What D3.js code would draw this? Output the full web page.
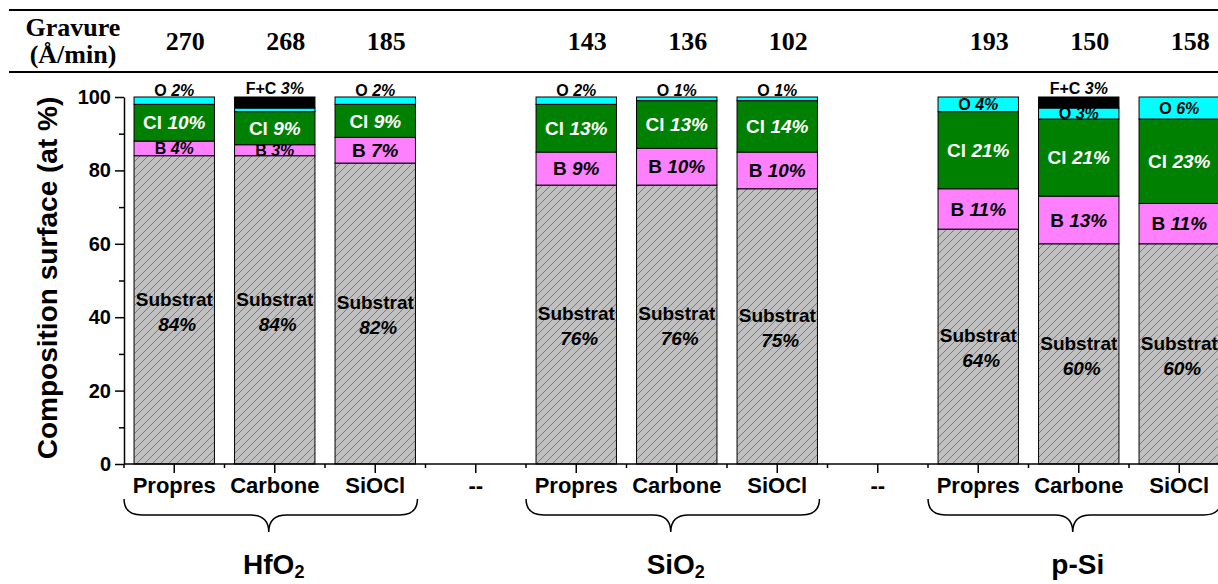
<!DOCTYPE html>
<html>
<head>
<meta charset="utf-8">
<script src="https://cdn.jsdelivr.net/npm/d3@7"></script>
<style>
  body { margin: 0; background: #fff; }
  svg { display: block; overflow: hidden; }
  text { font-family: Arial, "Liberation Sans", sans-serif; font-weight: bold; }
  .serif { font-family: "Times New Roman", "Liberation Serif", serif; }
</style>
</head>
<body>
<svg id="chart" width="1218" height="584"></svg>
<script>
// categories (the "--" slots are empty spacers between materials)
var tickLabels = ["Propres", "Carbone", "SiOCl", "--", "Propres", "Carbone", "SiOCl", "--", "Propres", "Carbone", "SiOCl"]
var groups = ["HfO2", "SiO2", "p-Si"]
var groupSlots = [[0, 2], [4, 6], [8, 10]]

// etch rate (Å/min)
var gravure = [270, 268, 185, null, 143, 136, 102, null, 193, 150, 158]

// surface composition (at %)
var substrat = [84, 84, 82, 0, 76, 76, 75, 0, 64, 60, 60]
var bore = [4, 3, 7, 0, 9, 10, 10, 0, 11, 13, 11]
var chlore = [10, 9, 9, 0, 13, 13, 14, 0, 21, 21, 23]
var oxygene = [2, 1, 2, 0, 2, 1, 1, 0, 4, 3, 6]
var fluorCarbone = [0, 3, 0, 0, 0, 0, 0, 0, 0, 3, 0]
var hiddenLabels = [[1, "O"]]

var yTicks = [0, 20, 40, 60, 80, 100]
var yMinor = [10, 30, 50, 70, 90]

var series = [
    {key: "Substrat", values: substrat, fill: "url(#hatch)", text: "#000"},
    {key: "B", values: bore, fill: "#ff80ff", text: "#000"},
    {key: "Cl", values: chlore, fill: "#008000", text: "#fff"},
    {key: "O", values: oxygene, fill: "#00ffff", text: "#000"},
    {key: "F+C", values: fluorCarbone, fill: "#000000", text: "#000"}
]

var table = tickLabels.map((t, i) => {
    var row = {i: i}
    series.forEach(s => { row[s.key] = s.values[i] })
    return row
})

var svg = d3.select("#chart")

var defs = svg.append("defs")
var pat = defs.append("pattern")
    .attr("id", "hatch")
    .attr("patternUnits", "userSpaceOnUse")
    .attr("width", 8)
    .attr("height", 8)
pat.append("rect").attr("width", 8).attr("height", 8).attr("fill", "#c0c0c0")
pat.append("path")
    .attr("d", "M-2,2 L2,-2 M0,8 L8,0 M6,10 L10,6")
    .attr("stroke", "#6a6a6a")
    .attr("stroke-width", 0.8)

var x = d3.scaleBand()
    .domain(d3.range(tickLabels.length))
    .range([124, 124 + 11 * 100.5])
    .paddingInner(0.2)
    .paddingOuter(0.1)

var y = d3.scaleLinear()
    .domain([0, 100])
    .range([464, 97])

var stacked = d3.stack().keys(series.map(s => s.key))(table)

// header with etch rates
svg.append("line").attr("x1", 9).attr("x2", 1218).attr("y1", 10).attr("y2", 10)
    .attr("stroke", "#000").attr("stroke-width", 2)
svg.append("line").attr("x1", 9).attr("x2", 1218).attr("y1", 72).attr("y2", 72)
    .attr("stroke", "#000").attr("stroke-width", 2)
svg.append("text").attr("class", "serif").attr("x", 73).attr("y", 36)
    .attr("text-anchor", "middle").attr("font-size", 26).text("Gravure")
svg.append("text").attr("class", "serif").attr("x", 73).attr("y", 63)
    .attr("text-anchor", "middle").attr("font-size", 26).text("(Å/min)")
svg.append("g")
    .selectAll("text")
    .data(gravure.map((g, i) => ({g: g, i: i})).filter(d => d.g != null))
    .enter()
    .append("text")
    .attr("class", "serif")
    .attr("x", d => x(d.i) + x.bandwidth() / 2 + 11)
    .attr("y", 50)
    .attr("text-anchor", "middle")
    .attr("font-size", 26)
    .text(d => d.g)

// stacked bars, layer by layer so later segments cover earlier labels
stacked.forEach((layer, li) => {
    var s = series[li]
    var g = svg.append("g")
    var segs = layer.filter(d => d[1] - d[0] > 0)
    g.selectAll("rect")
        .data(segs)
        .enter()
        .append("rect")
        .attr("x", d => x(d.data.i))
        .attr("width", x.bandwidth())
        .attr("y", d => y(d[1]))
        .attr("height", d => y(d[0]) - y(d[1]))
        .attr("fill", s.fill)
        .attr("stroke", "#000")
        .attr("stroke-width", 1)

    var labs = segs.filter(d => !hiddenLabels.some(h => h[0] == d.data.i && h[1] == s.key))
    labs.forEach(d => {
        var v = d[1] - d[0]
        var cx = x(d.data.i) + x.bandwidth() / 2
        var mid = y((d[0] + d[1]) / 2)
        if (s.key == "Substrat") {
            g.append("text").attr("x", cx).attr("y", mid - 11).attr("dy", "0.35em")
                .attr("text-anchor", "middle").attr("font-size", 19).attr("fill", s.text)
                .text("Substrat")
            g.append("text").attr("x", cx + 3).attr("y", mid + 14).attr("dy", "0.35em")
                .attr("text-anchor", "middle").attr("font-size", 19).attr("font-style", "italic")
                .attr("fill", s.text).text(v + "%")
            return
        }
        var size = 19, ty = mid, dy = "0.35em"
        if (s.key == "O" || s.key == "F+C" || (s.key == "B" && v <= 4)) size = 16
        if (s.key == "O" && v <= 2) { ty = y(100) - 1; dy = 0 }
        if (s.key == "F+C") { ty = y(100) - 3; dy = 0 }
        var t = g.append("text").attr("x", cx).attr("y", ty).attr("dy", dy)
            .attr("text-anchor", "middle").attr("font-size", size).attr("fill", s.text)
        t.append("tspan").text(s.key + " ")
        t.append("tspan").attr("font-style", "italic").text(v + "%")
    })
})

// y axis
var yAxis = d3.axisLeft(y).tickValues(yTicks).tickSize(9).tickSizeOuter(0).tickPadding(4)
var gy = svg.append("g").attr("transform", "translate(124,0)").call(yAxis)
gy.selectAll("text").attr("font-size", 20).attr("fill", "#000")
    .style("font-family", "Arial, 'Liberation Sans', sans-serif").style("font-weight", "bold")
svg.append("g").attr("transform", "translate(124,0)")
    .call(d3.axisLeft(y).tickValues(yMinor).tickSize(5).tickFormat(""))
    .select(".domain").remove()
svg.selectAll(".domain, .tick line").attr("stroke", "#000").attr("stroke-width", 1.5)

svg.append("text")
    .attr("transform", "translate(57,278) rotate(-90)")
    .attr("text-anchor", "middle")
    .attr("font-size", 28)
    .text("Composition surface (at %)")

// x axis
var xAxis = d3.axisBottom(x).tickSize(9).tickSizeOuter(0).tickPadding(4.5)
    .tickFormat(i => tickLabels[i])
var gx = svg.append("g").attr("transform", "translate(0,464)").call(xAxis)
gx.select(".domain").attr("d", "M124,0H1218")
gx.selectAll("text").attr("font-size", 22).attr("fill", "#000")
    .style("font-family", "Arial, 'Liberation Sans', sans-serif").style("font-weight", "bold")
svg.append("g")
    .selectAll("line")
    .data(d3.range(tickLabels.length + 1))
    .enter()
    .append("line")
    .attr("x1", k => x.range()[0] + k * x.step())
    .attr("x2", k => x.range()[0] + k * x.step())
    .attr("y1", 464)
    .attr("y2", 468)
    .attr("stroke", "#000")
    .attr("stroke-width", 1.5)
svg.selectAll(".domain, .tick line").attr("stroke-width", 1.5)

// braces and material names
groupSlots.forEach((gs, gi) => {
    var x0 = x(gs[0]) - 10
    var x1 = x(gs[1]) + x.bandwidth() + 2
    var xm = (x0 + x1) / 2 - 2
    var y0 = 499, y1 = 515, y2 = 532, r = 18
    var d = "M" + x0 + "," + y0 +
        " Q" + x0 + "," + y1 + " " + (x0 + r) + "," + y1 +
        " L" + (xm - r) + "," + y1 +
        " Q" + xm + "," + y1 + " " + xm + "," + y2 +
        " Q" + xm + "," + y1 + " " + (xm + r) + "," + y1 +
        " L" + (x1 - r) + "," + y1 +
        " Q" + x1 + "," + y1 + " " + x1 + "," + y0
    svg.append("path").attr("d", d).attr("fill", "none")
        .attr("stroke", "#000").attr("stroke-width", 1.5)

    var name = groups[gi]
    var t = svg.append("text").attr("x", xm + 5).attr("y", 574)
        .attr("text-anchor", "middle").attr("font-size", 28)
    if (name.endsWith("2")) {
        t.append("tspan").text(name.slice(0, -1))
        t.append("tspan").attr("font-size", 18).attr("dy", 4).text("2")
    } else {
        t.text(name)
    }
})
</script>
</body>
</html>
